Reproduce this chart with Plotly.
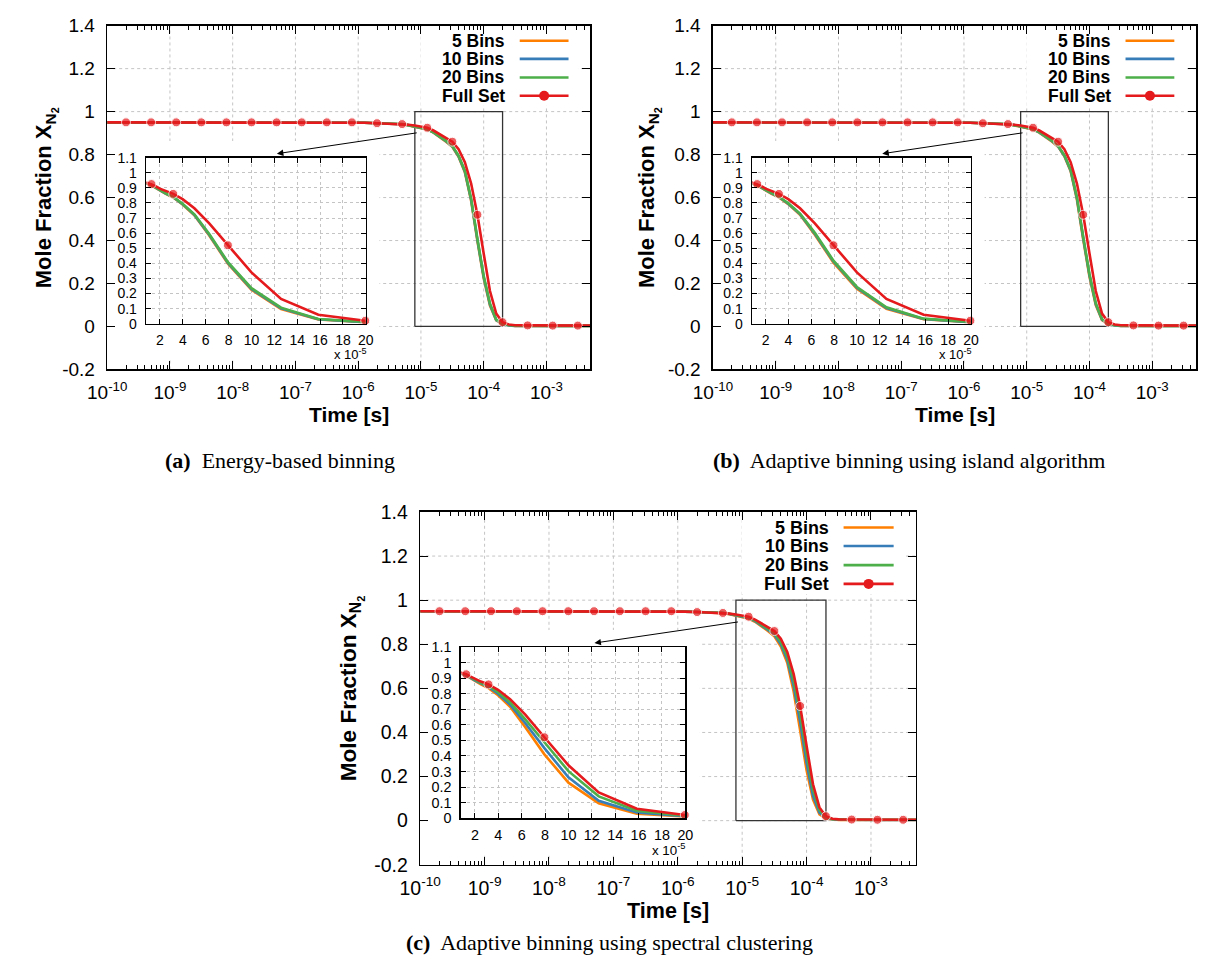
import math
import plotly.graph_objects as go

W, H = 1208, 978

# ---------------- data ----------------
# log10 of time [s]
log_time = [-10.0, -9.7, -9.3, -8.9, -8.5, -8.1, -7.7, -7.3, -6.9, -6.5, -6.1, -5.9, -5.7, -5.5,
            -5.3, -5.2, -5.1, -5.0, -4.9, -4.8, -4.7, -4.6, -4.5, -4.4, -4.3, -4.2, -4.1, -4.0,
            -3.9, -3.8, -3.7, -3.6, -3.5, -3.3, -2.9, -2.5, -2.3]
# sampling points where the Full Set markers are drawn
full_marker_log_time = [-9.7, -9.3, -8.9, -8.5, -8.1, -7.7, -7.3, -6.9, -6.5, -6.1, -5.7, -5.3,
                        -4.9, -4.5, -4.1, -3.7, -3.3, -2.9, -2.5]

full_set = [0.950, 0.950, 0.950, 0.950, 0.950, 0.950, 0.950, 0.950, 0.950, 0.950, 0.950, 0.948, 0.946, 0.944,
            0.942, 0.939, 0.935, 0.930, 0.925, 0.912, 0.895, 0.878, 0.860, 0.825, 0.765, 0.665, 0.520, 0.340,
            0.165, 0.060, 0.020, 0.009, 0.006, 0.005, 0.004, 0.004, 0.004]

# (a) Energy-based binning
a_5bins = [0.950, 0.950, 0.950, 0.950, 0.950, 0.950, 0.950, 0.950, 0.950, 0.950, 0.950, 0.948, 0.946, 0.944,
           0.941, 0.936, 0.930, 0.924, 0.917, 0.902, 0.882, 0.860, 0.836, 0.790, 0.718, 0.585, 0.398, 0.225,
           0.097, 0.028, 0.010, 0.005, 0.003, 0.003, 0.003, 0.003, 0.003]
a_10bins = [0.950, 0.950, 0.950, 0.950, 0.950, 0.950, 0.950, 0.950, 0.950, 0.950, 0.950, 0.948, 0.946, 0.944,
            0.941, 0.937, 0.931, 0.925, 0.918, 0.903, 0.884, 0.862, 0.838, 0.792, 0.721, 0.590, 0.403, 0.230,
            0.102, 0.030, 0.011, 0.005, 0.003, 0.003, 0.003, 0.003, 0.003]
a_20bins = [0.950, 0.950, 0.950, 0.950, 0.950, 0.950, 0.950, 0.950, 0.950, 0.950, 0.950, 0.948, 0.946, 0.944,
            0.942, 0.937, 0.932, 0.926, 0.919, 0.904, 0.885, 0.864, 0.840, 0.795, 0.725, 0.595, 0.408, 0.236,
            0.107, 0.032, 0.012, 0.006, 0.004, 0.003, 0.003, 0.003, 0.003]

# (b) Adaptive binning using island algorithm
b_5bins = [0.950, 0.950, 0.950, 0.950, 0.950, 0.950, 0.950, 0.950, 0.950, 0.950, 0.950, 0.948, 0.946, 0.944,
           0.941, 0.936, 0.930, 0.924, 0.917, 0.902, 0.883, 0.861, 0.837, 0.792, 0.722, 0.590, 0.405, 0.232,
           0.100, 0.030, 0.010, 0.005, 0.003, 0.003, 0.003, 0.003, 0.003]
b_10bins = [0.950, 0.950, 0.950, 0.950, 0.950, 0.950, 0.950, 0.950, 0.950, 0.950, 0.950, 0.948, 0.946, 0.944,
            0.941, 0.937, 0.931, 0.925, 0.918, 0.903, 0.884, 0.863, 0.839, 0.795, 0.726, 0.596, 0.412, 0.238,
            0.104, 0.032, 0.011, 0.005, 0.003, 0.003, 0.003, 0.003, 0.003]
b_20bins = [0.950, 0.950, 0.950, 0.950, 0.950, 0.950, 0.950, 0.950, 0.950, 0.950, 0.950, 0.948, 0.946, 0.944,
            0.942, 0.937, 0.932, 0.926, 0.919, 0.905, 0.886, 0.865, 0.841, 0.798, 0.730, 0.602, 0.418, 0.244,
            0.109, 0.034, 0.012, 0.006, 0.004, 0.003, 0.003, 0.003, 0.003]

# (c) Adaptive binning using spectral clustering
c_5bins = [0.950, 0.950, 0.950, 0.950, 0.950, 0.950, 0.950, 0.950, 0.950, 0.950, 0.950, 0.948, 0.946, 0.944,
           0.941, 0.936, 0.930, 0.924, 0.917, 0.902, 0.882, 0.860, 0.836, 0.790, 0.716, 0.585, 0.410, 0.228,
           0.095, 0.028, 0.010, 0.005, 0.003, 0.003, 0.003, 0.003, 0.003]
c_10bins = [0.950, 0.950, 0.950, 0.950, 0.950, 0.950, 0.950, 0.950, 0.950, 0.950, 0.950, 0.948, 0.946, 0.944,
            0.942, 0.937, 0.932, 0.926, 0.919, 0.905, 0.886, 0.865, 0.843, 0.800, 0.730, 0.610, 0.450, 0.262,
            0.112, 0.036, 0.013, 0.006, 0.004, 0.003, 0.003, 0.003, 0.003]
c_20bins = [0.950, 0.950, 0.950, 0.950, 0.950, 0.950, 0.950, 0.950, 0.950, 0.950, 0.950, 0.948, 0.946, 0.944,
            0.943, 0.938, 0.933, 0.928, 0.921, 0.908, 0.890, 0.870, 0.850, 0.810, 0.745, 0.635, 0.488, 0.302,
            0.140, 0.048, 0.016, 0.007, 0.005, 0.004, 0.004, 0.004, 0.004]

series_names = ["5 Bins", "10 Bins", "20 Bins", "Full Set"]
panel_series = [
    [a_5bins, a_10bins, a_20bins, full_set],
    [b_5bins, b_10bins, b_20bins, full_set],
    [c_5bins, c_10bins, c_20bins, full_set],
]
panel_captions = [
    "<b>(a)</b>  Energy-based binning",
    "<b>(b)</b>  Adaptive binning using island algorithm",
    "<b>(c)</b>  Adaptive binning using spectral clustering",
]

time_tick_exps = [-10, -9, -8, -7, -6, -5, -4, -3]
time_tick_labels = ["10<sup>-10</sup>", "10<sup>-9</sup>", "10<sup>-8</sup>", "10<sup>-7</sup>",
                    "10<sup>-6</sup>", "10<sup>-5</sup>", "10<sup>-4</sup>", "10<sup>-3</sup>"]
y_ticks = [-0.2, 0.0, 0.2, 0.4, 0.6, 0.8, 1.0, 1.2, 1.4]
y_tick_labels = ["-0.2", "0", "0.2", "0.4", "0.6", "0.8", "1", "1.2", "1.4"]
inset_x_ticks = [2, 4, 6, 8, 10, 12, 14, 16, 18, 20]
inset_y_ticks = [0.0, 0.1, 0.2, 0.3, 0.4, 0.5, 0.6, 0.7, 0.8, 0.9, 1.0, 1.1]
inset_y_labels = ["0", "0.1", "0.2", "0.3", "0.4", "0.5", "0.6", "0.7", "0.8", "0.9", "1", "1.1"]

# zoom window shown in the inset: time in [8e-6, 2e-4], X in [0, 1]
zoom_t0, zoom_t1 = 8e-6, 2e-4
inset_scale = 1e-5

# ---------------- style / layout ----------------
COLORS = ["#ff7f00", "#377eb8", "#4daf4a", "#e41a1c"]
SANS = "Liberation Sans, Arial, Helvetica, sans-serif"
SERIF = "Liberation Serif, Times New Roman, serif"
GRID = "#c4c4c4"

# pixel boxes (left, right, top, bottom)
main_boxes = [(88.3, 583.3, 15.0, 366.7), (709.0, 1204.0, 15.0, 366.7), (409.0, 917.0, 512.5, 873.4)]
inset_boxes = [(128.3, 353.3, 150.0, 320.0), (749.0, 973.3, 150.0, 320.0), (450.7, 680.7, 650.7, 825.7)]
ytitle_offsets = [63, 66, 70]
caption_pos = [(265, 460), (910, 460), (603, 953)]

x_range = [-10, math.log10(5e-3)]
y_range = [-0.2, 1.4]


def aid(n):
    return "" if n == 1 else str(n)


def px2paper_x(p):
    return p / W


def px2paper_y(p):
    return 1 - p / H


fig = go.Figure()
layout = dict(
    width=W, height=H, margin=dict(l=0, r=0, t=0, b=0),
    paper_bgcolor="white", plot_bgcolor="white", showlegend=False,
)
annotations = []

marker_sizes = [9 if any(abs(e - m) < 1e-9 for m in full_marker_log_time) else 0 for e in log_time]
times = [10 ** e for e in log_time]

for p in range(3):
    mi, ii = 2 * p + 1, 2 * p + 2
    l, r, t, b = main_boxes[p]
    il, ir, it, ib = inset_boxes[p]
    s = (b - t) / 351.7
    xr, yr = "x" + aid(mi), "y" + aid(mi)

    # pixel -> main-axis data coordinates (for decorations drawn inside the main plot)
    def data_x(px, l=l, r=r):
        return 10 ** (x_range[0] + (px - l) / (r - l) * (x_range[1] - x_range[0]))

    def data_y(py, t=t, b=b):
        return y_range[0] + (b - py) / (b - t) * (y_range[1] - y_range[0])

    deco = dict(xaxis=xr, yaxis=yr, showlegend=False, hoverinfo="skip")

    # main grid (dotted), drawn as a trace so the inset / legend masks can hide it
    gx, gy = [], []
    for e in time_tick_exps[1:]:
        gx += [10 ** e, 10 ** e, None]
        gy += [y_range[0], y_range[1], None]
    for yv in y_ticks[1:-1]:
        gx += [10 ** x_range[0], 10 ** x_range[1], None]
        gy += [yv, yv, None]
    fig.add_trace(go.Scatter(x=gx, y=gy, mode="lines", line=dict(color=GRID, width=1, dash="dot"), **deco))

    # white masks behind the inset and behind the key
    for (x0, x1, y0, y1) in [(il - 33 * s, ir + 14 * s, ib + 37 * s, it - 17 * s),
                             (r - 174 * s, r - 12 * s, t + 82 * s, t + 1)]:
        fig.add_trace(go.Scatter(x=[data_x(x0), data_x(x1), data_x(x1), data_x(x0), data_x(x0)],
                                 y=[data_y(y0), data_y(y0), data_y(y1), data_y(y1), data_y(y0)],
                                 mode="lines", fill="toself", fillcolor="white",
                                 line=dict(width=0, color="white"), **deco))

    # zoom rectangle
    fig.add_trace(go.Scatter(x=[zoom_t0, zoom_t1, zoom_t1, zoom_t0, zoom_t0], y=[0, 0, 1.0, 1.0, 0],
                             mode="lines", line=dict(color="#333333", width=1.3), **deco))

    # key (gnuplot style: text right-aligned, sample on the right)
    rows = [t + s * 15.5, t + s * 34.0, t + s * 53.0, t + s * 71.7]
    for k, name in enumerate(series_names):
        y0 = rows[k]
        annotations.append(dict(xref="paper", yref="paper", x=px2paper_x(r - 85 * s), y=px2paper_y(y0),
                                xanchor="right", yanchor="middle", showarrow=False, text="<b>%s</b>" % name,
                                font=dict(family=SANS, size=17.5 * s, color="black")))
        fig.add_trace(go.Scatter(x=[data_x(r - 72.3 * s), data_x(r - 22.3 * s)], y=[data_y(y0), data_y(y0)],
                                 mode="lines", line=dict(color=COLORS[k], width=2.6), **deco))
        if name == "Full Set":
            fig.add_trace(go.Scatter(x=[data_x(r - 47.3 * s)], y=[data_y(y0)], mode="markers",
                                     marker=dict(size=10, color=COLORS[k]), **deco))

    # ---- data traces ----
    for k, name in enumerate(series_names):
        vals = panel_series[p][k]
        is_full = name == "Full Set"
        fig.add_trace(go.Scatter(
            x=times, y=vals, name=name, mode="lines+markers" if is_full else "lines",
            line=dict(color=COLORS[k], width=2.6),
            marker=dict(size=marker_sizes, color=COLORS[k]) if is_full else None,
            xaxis=xr, yaxis=yr, showlegend=False,
        ))
        ix, iy, isz = [], [], []
        for tt, v, ms in zip(times, vals, marker_sizes):
            xv = tt / inset_scale
            if 0.79 <= xv <= 20.001:
                ix.append(xv)
                iy.append(v)
                isz.append(ms)
        fig.add_trace(go.Scatter(
            x=ix, y=iy, name=name, mode="lines+markers" if is_full else "lines",
            line=dict(color=COLORS[k], width=2.6),
            marker=dict(size=isz, color=COLORS[k]) if is_full else None,
            xaxis="x" + aid(ii), yaxis="y" + aid(ii), showlegend=False, cliponaxis=False,
        ))

    # ---- main axes ----
    layout["xaxis" + aid(mi)] = dict(
        domain=[px2paper_x(l), px2paper_x(r)], anchor=yr, type="log", range=x_range,
        tickmode="array", tickvals=[10 ** e for e in time_tick_exps], ticktext=time_tick_labels,
        ticks="inside", ticklen=8 * s, tickwidth=1, tickcolor="black",
        minor=dict(ticks="inside", ticklen=4 * s, tickwidth=1, tickcolor="black", dtick="D1", showgrid=False),
        showline=True, linecolor="black", linewidth=1.5, mirror="ticks",
        showgrid=False, zeroline=False,
        tickfont=dict(family=SANS, size=19 * s, color="black"), ticklabelstandoff=5,
    )
    layout["yaxis" + aid(mi)] = dict(
        domain=[px2paper_y(b), px2paper_y(t)], anchor=xr, range=y_range,
        tickmode="array", tickvals=y_ticks, ticktext=y_tick_labels,
        ticks="inside", ticklen=8 * s, tickwidth=1, tickcolor="black",
        showline=True, linecolor="black", linewidth=1.5, mirror="ticks",
        showgrid=False, zeroline=False,
        tickfont=dict(family=SANS, size=19 * s, color="black"), ticklabelstandoff=7,
    )
    # ---- inset axes ----
    layout["xaxis" + aid(ii)] = dict(
        domain=[px2paper_x(il), px2paper_x(ir)], anchor="y" + aid(ii), range=[0.8, 20],
        tickmode="array", tickvals=inset_x_ticks,
        ticks="inside", ticklen=5, tickwidth=1, tickcolor="black",
        showline=True, linecolor="black", linewidth=1.5, mirror="ticks",
        showgrid=True, gridcolor=GRID, griddash="dot", gridwidth=1, zeroline=False,
        tickfont=dict(family=SANS, size=14 * s, color="black"), ticklabelstandoff=3,
    )
    layout["yaxis" + aid(ii)] = dict(
        domain=[px2paper_y(ib), px2paper_y(it)], anchor="x" + aid(ii), range=[0, 1.1],
        tickmode="array", tickvals=inset_y_ticks, ticktext=inset_y_labels,
        ticks="inside", ticklen=5, tickwidth=1, tickcolor="black",
        showline=True, linecolor="black", linewidth=1.5, mirror="ticks",
        showgrid=True, gridcolor=GRID, griddash="dot", gridwidth=1, zeroline=False,
        tickfont=dict(family=SANS, size=14 * s, color="black"), ticklabelstandoff=5,
    )

    # arrow from zoom rectangle to inset
    tail_x = l + (math.log10(zoom_t0) - x_range[0]) / (x_range[1] - x_range[0]) * (r - l)
    tail_y = b - (0.9 - y_range[0]) / (y_range[1] - y_range[0]) * (b - t)
    head_x = il + 0.595 * (ir - il)
    head_y = it - 4 * s
    annotations.append(dict(xref="paper", yref="paper", x=px2paper_x(head_x), y=px2paper_y(head_y),
                            ax=tail_x - head_x, ay=tail_y - head_y, axref="pixel", ayref="pixel",
                            text="", showarrow=True, arrowhead=2, arrowsize=1.3, arrowwidth=1,
                            arrowcolor="black", standoff=0, startstandoff=0))

    # axis titles
    annotations.append(dict(xref="paper", yref="paper", x=px2paper_x(l - ytitle_offsets[p]),
                            y=px2paper_y((t + b) / 2), textangle=-90, showarrow=False,
                            xanchor="center", yanchor="middle",
                            text="<b>Mole Fraction X<sub>N<sub>2</sub></sub></b>",
                            font=dict(family=SANS, size=22 * s, color="black")))
    annotations.append(dict(xref="paper", yref="paper", x=px2paper_x((l + r) / 2), y=px2paper_y(b + 46 * s),
                            showarrow=False, xanchor="center", yanchor="middle", text="<b>Time [s]</b>",
                            font=dict(family=SANS, size=21 * s, color="black")))
    # inset multiplier label
    annotations.append(dict(xref="paper", yref="paper", x=px2paper_x(ir + 3), y=px2paper_y(ib + 31 * s),
                            showarrow=False, xanchor="right", yanchor="middle", text="x 10<sup>-5</sup>",
                            font=dict(family=SANS, size=13 * s, color="black")))
    # caption
    cx, cy = caption_pos[p]
    annotations.append(dict(xref="paper", yref="paper", x=px2paper_x(cx), y=px2paper_y(cy),
                            showarrow=False, xanchor="center", yanchor="middle", text=panel_captions[p],
                            font=dict(family=SERIF, size=22, color="black")))

layout["annotations"] = annotations
fig.update_layout(**layout)
fig.write_html("out.html", config={"staticPlot": True})
